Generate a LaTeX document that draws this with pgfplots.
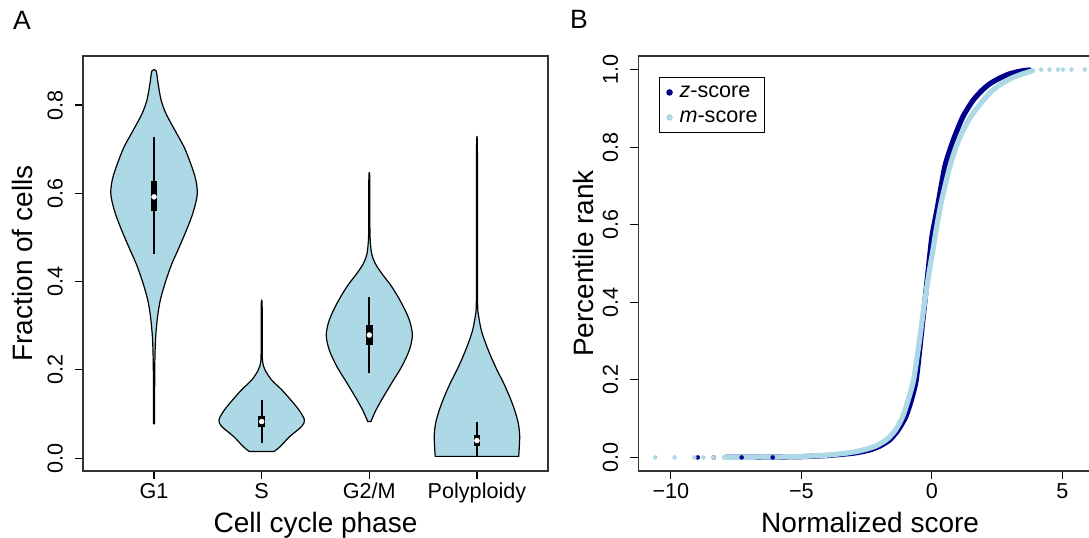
\documentclass[border=0pt]{standalone}
\usepackage{fontspec}
\setmainfont{Liberation Sans}
\usepackage{pgfplots}
\pgfplotsset{compat=1.18}
\usepackage{pgfplotstable}
\definecolor{vfill}{HTML}{ADD8E6}
\definecolor{zdark}{HTML}{00008B}
\definecolor{mlight}{HTML}{ADD8E6}
\newcommand{\tickfont}{\fontsize{21.6}{24}\selectfont}
\newcommand{\labfont}{\fontsize{28}{32}\selectfont}

% violin outlines: y, half width, side (right side up, left side down)
\pgfplotstableread{
y w s
0.078 0.005 1
0.20 0.0065 1
0.27 0.014 1
0.32 0.0325 1
0.36 0.060 1
0.40 0.107 1
0.44 0.165 1
0.472 0.223 1
0.52 0.307 1
0.56 0.367 1
0.60 0.402 1
0.64 0.378 1
0.70 0.288 1
0.736 0.209 1
0.78 0.112 1
0.812 0.065 1
0.85 0.037 1
0.8775 0.019 1
0.8775 0.019 -1
0.85 0.037 -1
0.812 0.065 -1
0.78 0.112 -1
0.736 0.209 -1
0.70 0.288 -1
0.64 0.378 -1
0.60 0.402 -1
0.56 0.367 -1
0.52 0.307 -1
0.472 0.223 -1
0.44 0.165 -1
0.40 0.107 -1
0.36 0.060 -1
0.32 0.0325 -1
0.27 0.014 -1
0.20 0.0065 -1
0.078 0.005 -1
}\vioA
\pgfplotstableread{
y w s
0.015 0.114 1
0.026 0.170 1
0.049 0.260 1
0.072 0.372 1
0.087 0.397 1
0.109 0.347 1
0.132 0.270 1
0.155 0.186 1
0.177 0.093 1
0.200 0.031 1
0.220 0.008 1
0.26 0.005 1
0.349 0.004 1
0.349 0.004 -1
0.26 0.005 -1
0.220 0.008 -1
0.200 0.031 -1
0.177 0.093 -1
0.155 0.186 -1
0.132 0.270 -1
0.109 0.347 -1
0.087 0.397 -1
0.072 0.372 -1
0.049 0.260 -1
0.026 0.170 -1
0.015 0.114 -1
}\vioB
\pgfplotstableread{
y w s
0.083 0.016 1
0.087 0.021 1
0.109 0.062 1
0.132 0.114 1
0.170 0.207 1
0.207 0.300 1
0.245 0.372 1
0.279 0.400 1
0.313 0.372 1
0.351 0.300 1
0.389 0.207 1
0.419 0.114 1
0.442 0.053 1
0.464 0.021 1
0.50 0.007 1
0.55 0.005 1
0.638 0.004 1
0.638 0.004 -1
0.55 0.005 -1
0.50 0.007 -1
0.464 0.021 -1
0.442 0.053 -1
0.419 0.114 -1
0.389 0.207 -1
0.351 0.300 -1
0.313 0.372 -1
0.279 0.400 -1
0.245 0.372 -1
0.207 0.300 -1
0.170 0.207 -1
0.132 0.114 -1
0.109 0.062 -1
0.087 0.021 -1
0.083 0.016 -1
}\vioC
\pgfplotstableread{
y w s
0.0041 0.388 1
0.049 0.397 1
0.079 0.384 1
0.109 0.350 1
0.139 0.304 1
0.170 0.248 1
0.200 0.186 1
0.230 0.130 1
0.260 0.081 1
0.290 0.040 1
0.321 0.016 1
0.340 0.007 1
0.40 0.005 1
0.698 0.004 1
0.698 0.004 -1
0.40 0.005 -1
0.340 0.007 -1
0.321 0.016 -1
0.290 0.040 -1
0.260 0.081 -1
0.230 0.130 -1
0.200 0.186 -1
0.170 0.248 -1
0.139 0.304 -1
0.109 0.350 -1
0.079 0.384 -1
0.049 0.397 -1
0.0041 0.388 -1
}\vioD

\pgfplotsset{panel/.style={
    scale only axis, height=415pt,
    tick align=outside, major tick length=8pt,
    xtick pos=bottom, ytick pos=left,
    axis line style={black!80, line width=1.1pt},
    tick style={black, line width=1.1pt},
    xticklabel style={font=\tickfont, yshift=-4pt, anchor=north, inner sep=0pt},
    yticklabel style={font=\tickfont, xshift=-12pt, rotate=90, anchor=south, inner sep=0pt},
    label style={font=\labfont, inner sep=0pt},
},
violin/.style={fill=vfill, draw=black, line width=1.2pt, line join=round, smooth, tension=0.5}}

\begin{document}
\begin{tikzpicture}[trim left=0pt, trim right=1089pt]
\path (0pt,0pt) rectangle (1089pt,537pt);

\node[anchor=base west, inner sep=0pt, font=\fontsize{26.5}{30}\selectfont] at (13pt,507pt) {A};
\node[anchor=base west, inner sep=0pt, font=\fontsize{26.5}{30}\selectfont] at (570pt,508pt) {B};

\begin{axis}[panel,
    at={(83pt,66pt)}, anchor=south west, width=465pt,
    xmin=0.34, xmax=4.66, ymin=-0.029, ymax=0.911,
    xtick={1,2,3,4}, xticklabels={G1,S,G2/M,Polyploidy},
    ytick={0,0.2,0.4,0.6,0.8}, yticklabels={0.0,0.2,0.4,0.6,0.8},
    xlabel={Cell cycle phase}, ylabel={Fraction of cells},
    xlabel style={at={(axis description cs:0.5,-0.147)}, anchor=base},
    ylabel style={at={(axis description cs:-0.109,0.5)}, anchor=base},
]
\addplot[violin] table[x expr=1+\thisrow{s}*\thisrow{w}, y=y] {\vioA} -- cycle;
\addplot[violin] table[x expr=2+\thisrow{s}*\thisrow{w}, y=y] {\vioB} -- cycle;
\addplot[violin] table[x expr=3+\thisrow{s}*\thisrow{w}, y=y] {\vioC} -- cycle;
\addplot[violin] table[x expr=4+\thisrow{s}*\thisrow{w}, y=y] {\vioD} -- cycle;

% whiskers
\addplot[black, line width=2pt] coordinates {(1,0.463)(1,0.727)};
\addplot[black, line width=2pt] coordinates {(2,0.035)(2,0.132)};
\addplot[black, line width=2pt] coordinates {(3,0.192)(3,0.366)};
\addplot[black, line width=2pt] coordinates {(4,0.0041)(4,0.083)};
% boxes
\addplot[black, line width=6.7pt] coordinates {(1,0.560)(1,0.628)};
\addplot[black, line width=6.7pt] coordinates {(2,0.070)(2,0.096)};
\addplot[black, line width=6.7pt] coordinates {(3,0.256)(3,0.302)};
\addplot[black, line width=6.7pt] coordinates {(4,0.028)(4,0.053)};
% medians
\addplot[only marks, mark=*, mark size=2.5pt, white] coordinates {(1,0.592)(2,0.083)(3,0.279)(4,0.040)};
\end{axis}

\begin{axis}[panel,
    at={(638.3pt,66pt)}, anchor=south west, width=463.7pt,
    xmin=-11.25, xmax=6.52, ymin=-0.035, ymax=1.035,
    xtick={-10,-5,0,5}, xticklabels={−10,−5,0,5},
    ytick={0,0.2,0.4,0.6,0.8,1}, yticklabels={0.0,0.2,0.4,0.6,0.8,1.0},
    xlabel={Normalized score}, ylabel={Percentile rank},
    xlabel style={at={(axis description cs:0.5,-0.147)}, anchor=base},
    ylabel style={at={(axis description cs:-0.0977,0.5)}, anchor=base},
    legend style={at={(axis description cs:0.0446,0.9501)}, anchor=north west,
        draw=black, line width=0.9pt, font=\tickfont,
        inner xsep=7.3pt, inner ysep=4.8pt,
        nodes={inner sep=0pt, text height=16pt, text depth=5pt},
        row sep=4pt, column sep=7.2pt},
    legend cell align=left,
]
\addlegendimage{only marks, mark=*, mark size=2.8pt, zdark}
\addlegendentry{\textit{z}-score}
\addlegendimage{only marks, mark=*, mark size=2.8pt, mlight}
\addlegendentry{\textit{m}-score}

% z-score
\addplot[zdark, line width=5.2pt, line cap=round, line join=round, smooth, tension=0.4, forget plot] coordinates {
(-7.9,0.0003) (-7,0.0005) (-6,0.001) (-5,0.002) (-4,0.005) (-3,0.011) (-2.4,0.019)
(-2.0,0.029) (-1.62,0.045) (-1.3,0.07) (-1.0,0.105) (-0.8,0.145) (-0.6,0.2) (-0.4,0.32)
(-0.2,0.445) (-0.06,0.534) (0.02,0.577) (0.2,0.64) (0.49,0.748) (0.7,0.795) (0.91,0.834)
(1.2,0.88) (1.57,0.92) (1.9,0.945) (2.21,0.963) (2.6,0.978) (2.98,0.989) (3.4,0.996) (3.75,0.999)};
\addplot[only marks, mark=*, mark size=2pt, zdark, forget plot] coordinates {
(-8.97,0) (-8.36,0) (-7.29,0) (-6.1,0)};
% m-score
\addplot[mlight, line width=5.2pt, line cap=round, line join=round, smooth, tension=0.4, forget plot] coordinates {
(-7.95,0.0003) (-7,0.0006) (-6,0.0012) (-5,0.0025) (-4,0.006) (-3.3,0.011) (-2.77,0.017)
(-2.2,0.028) (-1.75,0.045) (-1.4,0.07) (-1.12,0.105) (-0.9,0.15) (-0.7,0.2) (-0.5,0.29)
(-0.3,0.39) (-0.1,0.48) (0.04,0.534) (0.14,0.577) (0.35,0.655) (0.68,0.748) (0.9,0.795)
(1.13,0.834) (1.5,0.88) (1.96,0.92) (2.3,0.945) (2.66,0.963) (3.05,0.978) (3.48,0.989) (3.86,0.997)};
\addplot[only marks, mark=*, mark size=2pt, mlight, forget plot] coordinates {
(-10.6,0) (-9.86,0) (-9.1,0) (-8.75,0) (-8.36,0)
(4.19,1) (4.51,1) (4.83,1) (5.02,1) (5.35,1) (5.86,1)};
\end{axis}
\end{tikzpicture}
\end{document}
